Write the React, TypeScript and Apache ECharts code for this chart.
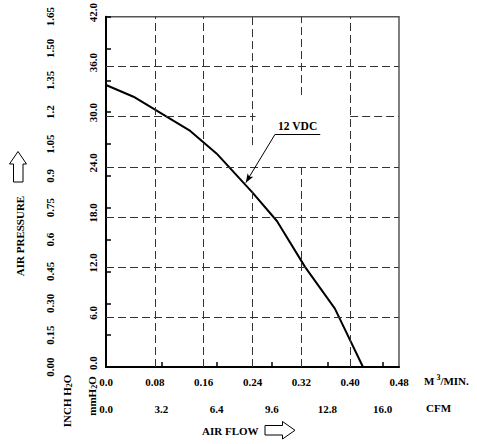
import React, { useEffect, useRef } from "react";
import * as echarts from "echarts";

// Fan performance curve: static pressure vs. air flow at 12 VDC
const flowM3 = [0, 0.045, 0.138, 0.181, 0.239, 0.28, 0.326, 0.375, 0.421];
const pressureMm = [33.8, 32.4, 28.3, 25.6, 21.0, 17.5, 12.0, 7.0, 0];

// Axis ticks and their printed labels
const flowTicks = [0, 0.08, 0.16, 0.24, 0.32, 0.4, 0.48];
const flowLabels = ["0.0", "0.08", "0.16", "0.24", "0.32", "0.40", "0.48"];
const cfmTicks = [0, 3.2, 6.4, 9.6, 12.8, 16.0];
const cfmLabels = ["0.0", "3.2", "6.4", "9.6", "12.8", "16.0"];
const mmTicks = [0, 6, 12, 18, 24, 30, 36, 42];
const mmLabels = ["0.0", "6.0", "12.0", "18.0", "24.0", "30.0", "36.0", "42.0"];
const inchTicks = [0, 0.15, 0.3, 0.45, 0.6, 0.75, 0.9, 1.05, 1.2, 1.35, 1.5, 1.65];
const inchLabels = ["0.00", "0.15", "0.30", "0.45", "0.6", "0.75", "0.9", "1.05", "1.2", "1.35", "1.50", "1.65"];

// Dashed grid, as drawn on the sheet (a few runs are interrupted)
const gridSegments: [number, number, number, number][] = [
  [0, 36, 0.48, 36],
  [0, 30, 0.245, 30],
  [0.4, 30, 0.48, 30],
  [0, 24, 0.48, 24],
  [0, 18, 0.48, 18],
  [0, 12, 0.48, 12],
  [0, 6, 0.48, 6],
  [0.08, 0, 0.08, 42],
  [0.16, 0, 0.16, 42],
  [0.24, 0, 0.24, 21.6],
  [0.24, 26.6, 0.24, 42],
  [0.32, 0, 0.32, 24],
  [0.32, 32.6, 0.32, 42],
  [0.4, 0, 0.4, 42],
];

// Callout for the curve
const curveName = "12 VDC";
const calloutStart: [number, number] = [0.277, 27.9];
const calloutEnd: [number, number] = [0.351, 27.9];
const calloutTip: [number, number] = [0.229, 22.1];

const FONT = "'Liberation Serif', 'DejaVu Serif', serif";
const txt = { fontFamily: FONT, fontWeight: "bold" as const, fontSize: 11, color: "#000" };

const pick = (ticks: number[], labels: string[]) => (v: number) => {
  const i = ticks.findIndex((t) => Math.abs(t - v) < 1e-6);
  return i >= 0 ? labels[i] : "";
};

export default function App() {
  const ref = useRef<HTMLDivElement>(null);

  useEffect(() => {
    if (!ref.current) return;
    const chart = echarts.init(ref.current, undefined, { renderer: "svg" });

    const gridLines = gridSegments.map(([x1, y1, x2, y2]) => [
      { coord: [x1, y1] },
      { coord: [x2, y2] },
    ]);

    chart.setOption({
      animation: false,
      backgroundColor: "#fff",
      grid: {
        show: true,
        left: 106,
        top: 14,
        width: 293,
        height: 353,
        borderColor: "#555",
        borderWidth: 1.5,
        backgroundColor: "transparent",
      },
      xAxis: [
        {
          type: "value",
          min: 0,
          max: 0.48,
          position: "bottom",
          axisLine: { show: false },
          axisTick: { show: false },
          splitLine: { show: false },
          axisLabel: {
            ...txt,
            margin: 9,
            customValues: flowTicks,
            formatter: pick(flowTicks, flowLabels),
          },
        },
        {
          type: "value",
          min: 0,
          max: 16.95,
          position: "bottom",
          offset: 29,
          axisLine: { show: true, lineStyle: { color: "#000", width: 2 } },
          axisTick: {
            show: true,
            inside: true,
            length: 5,
            customValues: cfmTicks,
            lineStyle: { color: "#000", width: 1.5 },
          },
          splitLine: { show: false },
          axisLabel: {
            ...txt,
            margin: 7,
            customValues: cfmTicks,
            formatter: pick(cfmTicks, cfmLabels),
          },
        },
      ],
      yAxis: [
        {
          type: "value",
          min: 0,
          max: 42,
          position: "left",
          axisLine: { show: false },
          axisTick: { show: false },
          splitLine: { show: false },
          axisLabel: {
            ...txt,
            rotate: 90,
            margin: 8,
            padding: [0, 0, 0, 8],
            customValues: mmTicks,
            formatter: pick(mmTicks, mmLabels),
          },
        },
        {
          type: "value",
          min: 0,
          max: 1.65,
          position: "left",
          offset: 41,
          axisLine: { show: true, lineStyle: { color: "#000", width: 2 } },
          axisTick: {
            show: true,
            inside: true,
            length: 5,
            customValues: inchTicks,
            lineStyle: { color: "#000", width: 1.5 },
          },
          splitLine: { show: false },
          axisLabel: {
            ...txt,
            rotate: 90,
            margin: 10,
            customValues: inchTicks,
            formatter: pick(inchTicks, inchLabels),
          },
        },
      ],
      series: [
        {
          type: "line",
          data: [],
          xAxisIndex: 0,
          yAxisIndex: 0,
          silent: true,
          z: 1,
          markLine: {
            silent: true,
            symbol: ["none", "none"],
            label: { show: false },
            lineStyle: { type: [8, 4], color: "#333", width: 1 },
            emphasis: { disabled: true },
            data: gridLines,
          },
        },
        {
          type: "line",
          name: curveName,
          xAxisIndex: 0,
          yAxisIndex: 0,
          data: flowM3.map((x, i) => [x, pressureMm[i]]),
          showSymbol: false,
          symbol: "none",
          smooth: false,
          silent: true,
          z: 3,
          lineStyle: { color: "#000", width: 2 },
          markLine: {
            silent: true,
            symbol: ["none", "none"],
            lineStyle: { type: "solid", color: "#000", width: 1 },
            emphasis: { disabled: true },
            data: [
              [
                { coord: calloutStart },
                {
                  coord: calloutEnd,
                  label: {
                    show: true,
                    position: "insideMiddleTop",
                    distance: 2,
                    formatter: curveName,
                    ...txt,
                    fontSize: 11.5,
                  },
                },
              ],
              [
                { coord: calloutStart, symbol: "none", label: { show: false } },
                { coord: calloutTip, symbol: "arrow", symbolSize: [5, 9], label: { show: false } },
              ],
            ],
          },
        },
      ],
      graphic: [
        {
          type: "polygon",
          shape: {
            points: [
              [18, 151.5],
              [26.5, 164],
              [23, 164],
              [23, 182],
              [13.5, 182],
              [13.5, 164],
              [9.5, 164],
            ],
          },
          style: { fill: "#fff", stroke: "#000", lineWidth: 1 },
        },
        {
          type: "text",
          x: 20,
          y: 236,
          rotation: Math.PI / 2,
          style: { text: "AIR PRESSURE", font: `bold 11px ${FONT}`, fill: "#000", align: "center", verticalAlign: "middle" },
        },
        {
          type: "text",
          x: 67,
          y: 401,
          rotation: Math.PI / 2,
          style: {
            text: "INCH H{s|2}O",
            font: `bold 11px ${FONT}`,
            fill: "#000",
            align: "center",
            verticalAlign: "middle",
            rich: { s: { font: `bold 8px ${FONT}`, fill: "#000", padding: [5, 0, 0, 0] } },
          },
        },
        {
          type: "text",
          x: 92,
          y: 396,
          rotation: Math.PI / 2,
          style: {
            text: "mmH{s|2}O",
            font: `bold 11px ${FONT}`,
            fill: "#000",
            align: "center",
            verticalAlign: "middle",
            rich: { s: { font: `bold 8px ${FONT}`, fill: "#000", padding: [5, 0, 0, 0] } },
          },
        },
        {
          type: "text",
          x: 424,
          y: 381,
          style: {
            text: "M{p|3}/MIN.",
            font: `bold 11px ${FONT}`,
            fill: "#000",
            align: "left",
            verticalAlign: "middle",
            rich: { p: { font: `bold 8px ${FONT}`, fill: "#000", padding: [0, 0, 7, 2] } },
          },
        },
        {
          type: "text",
          x: 426,
          y: 408,
          style: { text: "CFM", font: `bold 11px ${FONT}`, fill: "#000", align: "left", verticalAlign: "middle" },
        },
        {
          type: "text",
          x: 202,
          y: 430.5,
          style: { text: "AIR FLOW", font: `bold 11px ${FONT}`, fill: "#000", align: "left", verticalAlign: "middle" },
        },
        {
          type: "polygon",
          shape: {
            points: [
              [265, 425.5],
              [282.5, 425.5],
              [282.5, 421.5],
              [295, 430.3],
              [282.5, 439],
              [282.5, 435],
              [265, 435],
            ],
          },
          style: { fill: "#fff", stroke: "#000", lineWidth: 1 },
        },
      ],
    });

    return () => chart.dispose();
  }, []);

  return (
    <div
      ref={ref}
      style={{ position: "absolute", left: 0, top: 0, width: 477, height: 444 }}
    />
  );
}
